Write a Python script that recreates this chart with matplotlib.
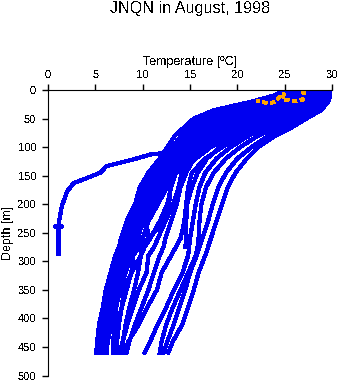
import numpy as np
import matplotlib
matplotlib.use("Agg")
import matplotlib.pyplot as plt

nan = np.nan

# depth levels shared by the CTD casts [m]
depth = [0, 10, 20, 35, 50, 65, 80, 100, 120, 145, 170, 200, 230, 260, 275,
         290, 320, 350, 380, 410, 440, 460]

# temperature of each cast at those depths [deg C]
casts = [
    [25.0, 23.8, 21.6, 17.6, 15.4, 14.4, 13.4, 12.6, 11.8, 10.6, 9.7, 9.2, 8.3, 7.7, 7.5, 7.1, 6.6, 6.1, 5.8, 5.4, 5.2, 5.1],
    [25.8, 24.6, 22.4, 18.4, 16.2, 15.0, 14.1, 13.1, 12.1, 10.9, 10.3, 9.2, 8.6, 7.9, 7.6, 7.4, 6.8, 6.4, 5.9, 5.6, 5.4, 5.2],
    [26.5, 25.4, 23.0, 19.0, 16.8, 15.4, 14.4, 13.4, 12.6, 11.2, 10.3, 9.8, 8.7, 8.3, 7.8, 7.5, 7.0, 6.5, 6.1, 5.7, 5.5, 5.4],
    [27.0, 26.0, 23.8, 19.8, 17.4, 15.9, 14.8, 13.7, 12.6, 11.6, 10.5, 9.6, 9.1, 8.2, 8.0, 7.6, 7.0, 6.7, 6.2, 5.9, 5.6, 5.5],
    [27.4, 26.6, 24.6, 20.6, 18.0, 16.4, 15.2, 14.0, 12.9, 11.6, 10.9, 9.8, 9.0, 8.6, 8.1, 7.8, 7.3, 6.7, 6.4, 6.0, 5.7, 5.6],
    [27.8, 27.0, 25.2, 21.4, 18.8, 17.0, 15.7, 14.4, 13.2, 12.1, 10.9, 10.2, 9.2, 8.5, 8.3, 7.9, 7.3, 6.9, 6.4, 6.1, 5.8, 5.7],
    [28.2, 27.6, 25.9, 22.2, 19.5, 17.5, 16.1, 14.7, 13.7, 12.2, 11.0, 10.5, 9.4, 8.9, 8.3, 8.1, 7.4, 6.9, 6.6, 6.2, 5.9, 5.8],
    [28.6, 28.0, 26.5, 23.0, 20.2, 18.1, 16.6, 15.1, 13.8, 12.6, 11.4, 10.4, 9.8, 8.8, 8.6, 8.2, 7.7, 7.0, 6.6, 6.4, 6.0, 5.9],
    [28.9, 28.4, 27.1, 23.8, 21.0, 18.7, 17.1, 15.5, 14.1, 12.7, 11.8, 10.6, 9.7, 9.4, 8.6, 8.4, 7.7, 7.3, 6.7, 6.4, 6.2, 6.0],
    [29.2, 28.8, 27.7, 24.6, 21.8, 19.4, 17.6, 15.9, 14.6, 13.0, 12.2, 11.4, 10.2, 9.1, 8.9, 8.4, 7.9, 7.3, 6.9, 6.5, 6.2, 6.1],
    [29.4, 29.1, 28.2, 25.4, 22.6, 20.1, 18.2, 16.3, 14.8, 13.5, 12.6, 11.6, 10.6, 10.0, 9.4, 8.8, 8.0, 7.5, 6.9, 6.7, 6.3, 6.2],
    [26.0, 25.0, 22.8, 18.9, 16.6, 15.5, 14.6, 13.8, 12.9, 11.5, 10.2, 9.5, 8.6, 8.2, 7.7, 7.4, 6.8, 6.2, 5.9, 5.5, 5.3, 5.2],
    [27.5, 26.8, 25.0, 21.0, 18.0, 16.2, 15.0, 14.0, 13.2, 12.0, 11.4, 10.3, 9.7, 8.8, 8.6, 8.1, 7.5, 7.1, 6.5, 6.2, 5.9, 5.8],
    [29.0, 28.6, 27.4, 24.0, 21.0, 18.9, 17.0, 15.2, 13.9, 12.8, 11.7, 10.9, 10.0, 9.5, 8.8, 8.7, 7.9, 7.3, 7.0, 6.4, 6.1, 6.0],
    [28.0, 27.2, 25.6, 22.6, 20.4, 18.6, 17.2, 15.6, 14.2, 12.9, 11.9, 11.0, 10.0, 9.5, 9.2, 8.8, 8.2, 7.6, 7.2, 7.0, 6.9, 6.9],
    [28.8, 28.2, 26.8, 24.0, 21.8, 19.8, 18.2, 16.4, 15.0, 13.5, 13.0, 12.6, 11.8, 10.8, 10.2, 9.8, 8.8, 8.3, 7.8, 7.5, 7.3, 7.3],
    [29.4, 29.2, 28.4, 26.0, 23.6, 21.4, 19.4, 17.2, 15.6, 14.1, 13.8, 13.2, 12.4, 11.6, 11.2, 10.6, 10.4, 9.6, 9.0, 8.4, 7.9, 7.6],
    [28.4, 27.6, 26.0, 23.2, 21.0, 19.3, 17.9, 16.2, 14.9, 13.4, 12.9, 12.8, 12.2, 10.6, 9.9, 9.8, 9.5, 9.1, 8.6, 8.2, 7.9, 7.8],
    [28.6, 28.0, 26.4, 23.4, 21.2, 19.2, 17.6, 15.8, 14.6, 13.6, 12.2, 11.5, 10.4, 10.6, 9.6, 9.0, 8.8, 8.0, 7.8, 7.3, 7.1, 7.0],
    [29.6, 29.5, 29.0, 27.0, 24.8, 22.6, 20.6, 18.4, 16.6, 15.2, 14.8, 14.6, 14.4, 14.0, 13.5, 13.0, 12.0, 11.5, 10.5, 9.6, 8.5, 8.0],
    [29.0, 28.6, 27.6, 25.0, 22.8, 20.8, 19.0, 17.0, 15.4, 14.6, 14.0, 13.6, 13.0, 12.4, 12.2, 11.8, 11.2, 10.6, 9.9, 9.2, 8.6, 8.3],
    [29.8, 29.8, 29.6, 28.9, 27.3, 25.8, 24.0, 22.2, 21.0, 19.8, 19.0, 18.4, 17.8, 17.2, 16.9, 16.6, 15.9, 15.4, 14.8, 14.2, 13.2, 12.7],
    [29.6, 29.5, 29.1, 28.2, 26.6, 25.0, 23.3, 21.5, 20.0, 18.8, 18.0, 17.4, 16.9, 16.3, 16.0, 15.7, 15.0, 14.5, 13.9, 13.3, 12.6, 12.2],
    [29.5, 29.3, 28.8, 27.5, 25.8, 24.0, 22.2, 20.3, 18.8, 17.5, 16.7, 16.2, 16.0, 15.9, 15.8, 15.6, 14.8, 14.0, 13.2, 12.5, 12.0, 11.8],
    [29.3, 29.0, 28.3, 26.6, 24.8, 23.0, 21.2, 19.3, 17.8, 16.6, 16.0, 15.6, 15.3, 15.0, 14.9, 14.8, 14.2, 13.3, 12.5, 11.6, 10.8, 10.2],
    [29.0, 28.6, 27.8, 25.8, 23.6, 21.6, 20.0, 18.2, 16.8, 15.8, 15.2, 14.7, 14.6, 14.6, 14.5, nan, nan, nan, nan, nan, nan, nan],
]

# the cast that drops to ~1 deg C below 150 m
cold_depth = [0, 20, 50, 80, 100, 109, 113, 123, 133, 145, 153, 163, 178, 204, 227, 239, 239, 239, 239, 287]
cold_temp = [27.0, 24.0, 18.5, 15.0, 13.5, 12.9, 10.8, 8.7, 6.2, 5.5, 4.3, 2.7, 2.0, 1.45, 1.2, 1.1, 0.7, 1.5, 1.1, 1.1]

# orange cast, surface only
orange_depth = [4, 5, 11, 17, 19, 20, 17, 17, 7, 10, 21, 24, 21, 19]
orange_temp = [26.8, 27.1, 27.0, 26.9, 26.4, 26.0, 25.3, 24.8, 24.9, 24.6, 23.9, 23.3, 22.7, 22.0]


def plot_profiles():
    plt.rcParams['font.family'] = ['Liberation Sans', 'DejaVu Sans']
    plt.rcParams['text.antialiased'] = False
    fig = plt.figure(figsize=(3.41, 3.84), dpi=100)
    ax = fig.add_axes([0.1408, 0.0219, 0.8328, 0.7437])

    for temps in casts:
        ax.plot(temps, depth, color='#0000f0', lw=2.3, antialiased=False)
    ax.plot(cold_temp, cold_depth, color='#0000f0', lw=2.3, antialiased=False)
    ax.plot(orange_temp, orange_depth, color='orange', lw=2.3, dashes=(1.3, 1.0), antialiased=False)

    ax.set_xlim(0, 30)
    ax.set_ylim(500, 0)
    ax.set_xticks(range(0, 31, 5))
    ax.set_yticks(range(0, 501, 50))
    ax.xaxis.tick_top()
    ax.xaxis.set_label_position('top')
    ax.spines['right'].set_visible(False)
    ax.spines['bottom'].set_visible(False)
    ax.tick_params(labelsize=8, length=4, width=1)
    ax.tick_params(axis='x', pad=3.5)
    ax.tick_params(axis='y', pad=4.5)
    ax.set_xlabel("Temperature [ºC]", fontsize=9, labelpad=3)
    ax.set_ylabel("Depth [m]", fontsize=9, labelpad=3)
    fig.text(0.557, 1 - 8 / 384, "JNQN in August, 1998", fontsize=11.6, ha='center', va='center')

    fig.savefig("out.png", dpi=100)


plot_profiles()
